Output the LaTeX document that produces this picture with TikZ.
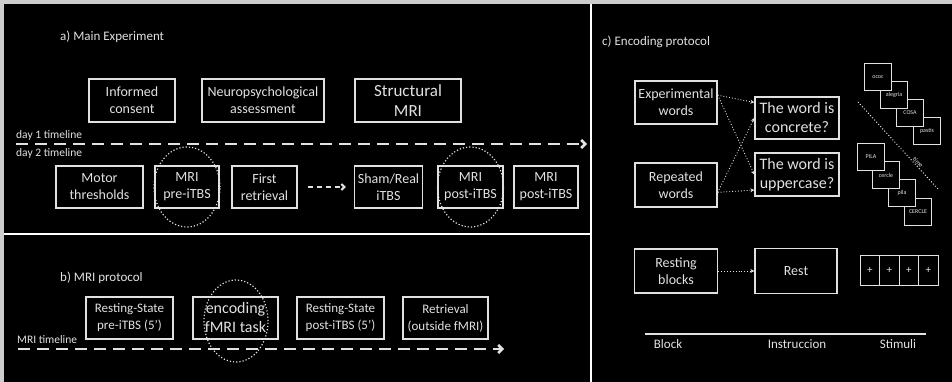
\documentclass[tikz,border=0pt]{standalone}
\usepackage{fontspec}
\setmainfont{Carlito}
\usetikzlibrary{arrows.meta, positioning, shapes.geometric}
\definecolor{fg}{RGB}{225,225,225}
\definecolor{edgegray}{RGB}{205,205,205}

\begin{document}
\begin{tikzpicture}[x=1pt,y=-1pt,
  box/.style={draw=fg,line width=1.4pt,text=fg,align=center,inner sep=1pt,font=\fontsize{14}{17}\selectfont},
  paneltitle/.style={text=fg,anchor=west,inner sep=0pt,font=\fontsize{13}{15}\selectfont},
  smalltext/.style={text=fg,anchor=west,inner sep=0pt,font=\fontsize{11.5}{13}\selectfont},
  timeline/.style={draw=fg,line width=2.5pt,dash pattern=on 12pt off 7pt,-{Straight Barb[length=4pt,width=8pt]}},
  focus/.style={ellipse,draw=fg,dotted,line width=1.2pt,inner sep=0pt},
  choice/.style={draw=fg,dotted,line width=0.9pt,-{Stealth[length=4pt,width=4pt]}},
  card/.style={draw=fg,fill=black,line width=1pt,text=fg,minimum size=27pt,inner sep=0pt,font=\fontsize{6}{7}\selectfont},
  cell/.style={draw=fg,line width=0.8pt,text=fg,minimum width=19.5pt,minimum height=30pt,inner sep=0pt,font=\fontsize{11}{12}\selectfont}]

% Background and panel frames
\fill[edgegray] (0,0) rectangle (952,382);
\fill[black] (4,4) rectangle (952,382);
\useasboundingbox (0,0) rectangle (952,382);
\draw[white,line width=2.5pt] (4,234) -- (591,234);
\draw[white,line width=2.5pt] (591,4) -- (591,382);

% a) Main experiment
\node[paneltitle] (titlea) at (60,37) {a) Main Experiment};
\node[box,minimum width=86pt,minimum height=43pt] (consent) at (132,100.5) {Informed\\consent};
\node[box,minimum width=122pt,minimum height=43pt] (neuro) at (263,100.5) {Neuropsychological\\assessment};
\node[box,minimum width=106pt,minimum height=43pt,font=\fontsize{17}{20}\selectfont] (structural) at (408,100.5) {Structural\\MRI};

\node[smalltext] (dayone) at (16,135) {day 1 timeline};
\node[smalltext] (daytwo) at (16,153) {day 2 timeline};
\coordinate (dstart) at (16,144);
\coordinate (dend) at (587,144);
\draw[timeline] (dstart) -- (dend);

\node[box,minimum width=87pt,minimum height=42pt] (motor) at (99.5,187) {Motor\\thresholds};
\node[box,minimum width=64pt,minimum height=42pt] (mripre) at (187,187) {MRI\\pre-iTBS};
\node[box,minimum width=65pt,minimum height=42pt] (first) at (264.5,187) {First\\retrieval};
\node[box,minimum width=68pt,minimum height=42pt] (sham) at (388.5,187) {Sham/Real\\iTBS};
\node[box,minimum width=65pt,minimum height=42pt] (mripost) at (470.5,187) {MRI\\post-iTBS};
\node[box,minimum width=64pt,minimum height=42pt] (mrilast) at (546,187) {MRI\\post-iTBS};
\draw[draw=fg,line width=2pt,dash pattern=on 5pt off 4pt,-{Straight Barb[length=3pt,width=6pt]},shorten <=10pt,shorten >=8pt] (first) -- (sham);
\node[focus,minimum width=66pt,minimum height=80pt] (ringpre) at (mripre) {};
\node[focus,minimum width=66pt,minimum height=80pt] (ringpost) at (mripost) {};

% b) MRI protocol
\node[paneltitle] (titleb) at (60,278) {b) MRI protocol};
\node[box,minimum width=87pt,minimum height=42pt,font=\fontsize{13}{17}\selectfont] (restpre) at (129.5,318) {Resting-State\\pre-iTBS (5')};
\node[box,minimum width=85pt,minimum height=42pt,font=\fontsize{16}{19}\selectfont] (encoding) at (235.5,318) {encoding\\fMRI task};
\node[box,minimum width=87pt,minimum height=42pt,font=\fontsize{13}{17}\selectfont] (restpost) at (340.5,318) {Resting-State\\post-iTBS (5')};
\node[box,minimum width=85pt,minimum height=42pt,font=\fontsize{13}{17}\selectfont] (retrieval) at (445.5,318) {Retrieval\\(outside fMRI)};
\node[smalltext] (mritime) at (17,340) {MRI timeline};
\coordinate (mstart) at (18,349);
\coordinate (mend) at (504,349);
\draw[timeline] (mstart) -- (mend);
\node[focus,minimum width=64pt,minimum height=82pt] (ringenc) at (236,321) {};

% c) Encoding protocol
\node[paneltitle] (titlec) at (602,42) {c) Encoding protocol};
\node[box,minimum width=82pt,minimum height=43pt] (expwords) at (676,102.5) {Experimental\\words};
\node[box,minimum width=82pt,minimum height=44pt] (repwords) at (676,185) {Repeated\\words};
\node[box,minimum width=84pt,minimum height=42pt,font=\fontsize{16}{19}\selectfont] (concrete) at (797,118) {The word is\\concrete?};
\node[box,minimum width=84pt,minimum height=43pt,font=\fontsize{16}{19}\selectfont] (upper) at (797,174.5) {The word is\\uppercase?};
\draw[choice] (expwords.10) -- (concrete.160);
\draw[choice] (expwords.10) -- (upper.west);
\draw[choice] (repwords.-10) -- (concrete.west);
\draw[choice] (repwords.-10) -- (upper.-160);

\node[box,minimum width=83pt,minimum height=44pt] (restblocks) at (676,271) {Resting\\blocks};
\node[box,minimum width=82pt,minimum height=45pt] (rest) at (796,271) {Rest};
\draw[choice] (restblocks) -- (rest);

% stimuli cards
\node[card] (pastis) at (927,131) {pastis};
\node[card] (cosa) at (910,113) {COSA};
\node[card] (alegria) at (894,95) {alegria};
\node[card] (ococ) at (878,77) {ococ};
\node[card] (cerclecap) at (918,212) {CERCLE};
\node[card] (pila) at (902,193) {pila};
\node[card] (cercle) at (886,175) {cercle};
\node[card] (pilacap) at (871,157) {PILA};
\coordinate (tstart) at (858,102);
\coordinate (tend) at (938,189);
\draw[fg,dotted,line width=1pt] (tstart) -- node[sloped,above,pos=0.72,text=fg,inner sep=0.5pt,font=\fontsize{6.5}{7}\selectfont] (timetext) {time} (tend);

\node[cell] (plusa) at (869.75,270) {+};
\node[cell] (plusb) at (889.25,270) {+};
\node[cell] (plusc) at (908.75,270) {+};
\node[cell] (plusd) at (928.25,270) {+};

% column headings
\draw[fg,line width=1.2pt] (645,334) -- (926,334);
\node[text=fg,font=\fontsize{13}{15}\selectfont] (block) at (668,344) {Block};
\node[text=fg,font=\fontsize{13}{15}\selectfont] (instr) at (797,344) {Instruccion};
\node[text=fg,font=\fontsize{13}{15}\selectfont] (stim) at (898,344) {Stimuli};
\end{tikzpicture}
\end{document}
